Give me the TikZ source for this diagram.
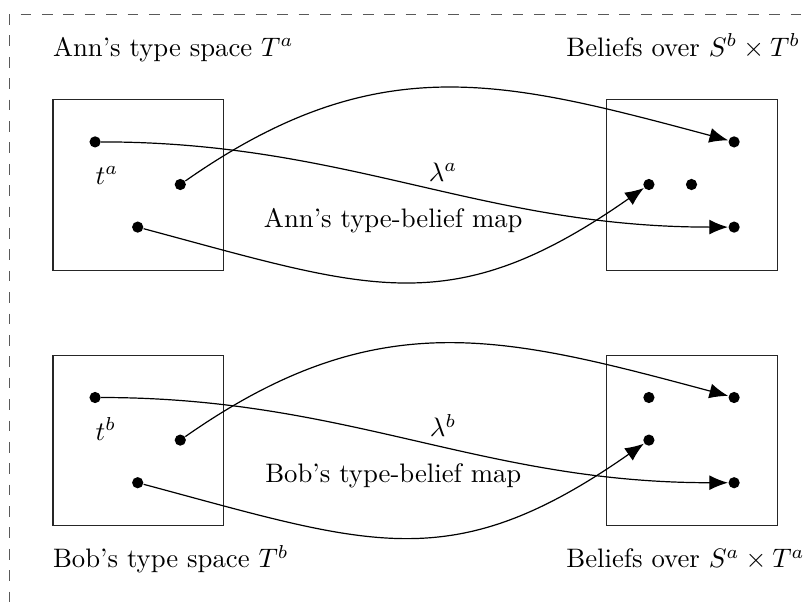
\documentclass[tikz,border=0pt]{standalone}
\usepackage{amsmath,amssymb}
\usepackage{tikz}
\usetikzlibrary{arrows.meta, positioning, calc}

\begin{document}
\begin{tikzpicture}[
			x=0.56cm, y=0.56cm,
			>={Latex[length=7pt, width=5.6pt]},
			typespace/.style={rectangle, draw=black!85, minimum width=2.24cm, minimum height=2.24cm, inner sep=0pt, anchor=north west},
			typedot/.style={circle, fill=black, inner sep=0pt, minimum size=4.2pt},
			title/.style={anchor=base west, inner sep=0pt},
			maplabel/.style={anchor=base, inner sep=0pt},
			mapto/.style={->, color=black, line width=0.45pt},
			dashframe/.style={draw=black!65, dash pattern=on 4pt off 4pt}
			]
			
			\useasboundingbox (-1.232, -11.871) rectangle (17.805, 2.331);
			
			% --- Outer dashed frame ---
			\coordinate (corner) at (-1, 2);
			\draw[dashframe] (corner) -- (-1, -12.5);
			\draw[dashframe, dash phase=4pt] (corner) -- (18.5, 2);
			
			% --- Ann: types and beliefs ---
			\node[typespace] (ann_types) at (0, 0) {};
			\node[typespace] (ann_beliefs) at (13, 0) {};
			\node[title] (ann_title) at (0, 1) {Ann's type space $T^a$};
			\node[title] (ann_btitle) at (12.05, 1) {Beliefs over $S^b \times T^b$};
			
			\node[typedot] (ta1) at (1, -1) {};
			\node[typedot] (ta2) at (3, -2) {};
			\node[typedot] (ta3) at (2, -3) {};
			\node[title] (ta_label) at (1, -2) {$t^a$};
			
			\node[typedot] (bb1) at (16, -1) {};
			\node[typedot] (bb2) at (14, -2) {};
			\node[typedot] (bb3) at (15, -2) {};
			\node[typedot] (bb4) at (16, -3) {};
			
			\draw[mapto] (ta1) to[out=0, in=180] node[pos=0.55, above] {$\lambda^a$} (bb4);
			\draw[mapto] (ta2) to[out=35, in=165, looseness=1.1] (bb1);
			\draw[mapto] (ta3) to[out=-15, in=-145, looseness=1.2] (bb2);
			\node[maplabel] (ann_map) at (8, -3) {Ann's type-belief map};
			
			% --- Bob: types and beliefs ---
			\node[typespace] (bob_types) at (0, -6) {};
			\node[typespace] (bob_beliefs) at (13, -6) {};
			\node[title] (bob_title) at (0, -11) {Bob's type space $T^b$};
			\node[title] (bob_btitle) at (12.05, -11) {Beliefs over $S^a \times T^a$};
			
			\node[typedot] (tb1) at (1, -7) {};
			\node[typedot] (tb2) at (3, -8) {};
			\node[typedot] (tb3) at (2, -9) {};
			\node[title] (tb_label) at (1, -8) {$t^b$};
			
			\node[typedot] (ba1) at (14, -7) {};
			\node[typedot] (ba2) at (16, -7) {};
			\node[typedot] (ba3) at (14, -8) {};
			\node[typedot] (ba4) at (16, -9) {};
			
			\draw[mapto] (tb1) to[out=0, in=180] node[pos=0.55, above] {$\lambda^b$} (ba4);
			\draw[mapto] (tb2) to[out=35, in=165, looseness=1.1] (ba2);
			\draw[mapto] (tb3) to[out=-15, in=-145, looseness=1.2] (ba3);
			\node[maplabel] (bob_map) at (8, -9) {Bob's type-belief map};
			
\end{tikzpicture}
\end{document}
